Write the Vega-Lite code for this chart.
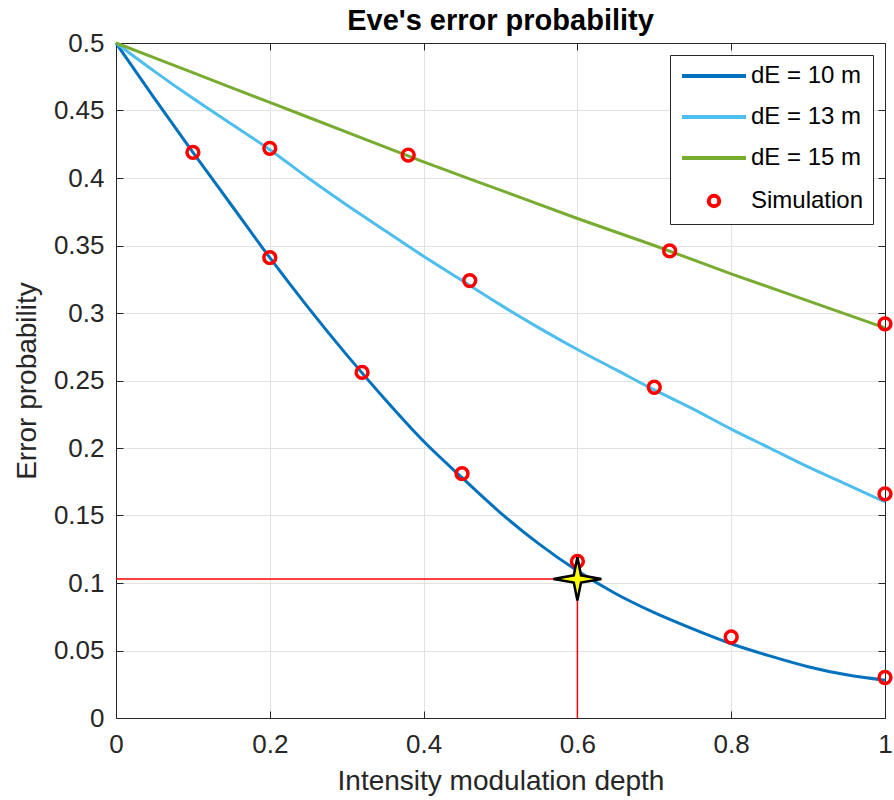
{
  "$schema": "https://vega.github.io/schema/vega-lite/v6.json",
  "width": 769,
  "height": 675,
  "autosize": {"type": "none"},
  "padding": {"left": 116, "top": 43, "right": 9, "bottom": 82},
  "background": "white",
  "title": {"text": "Eve's error probability", "fontSize": 29, "fontWeight": "bold", "color": "#000000", "anchor": "middle", "offset": -6},
  "config": {
    "font": "Liberation Sans",
    "view": {"stroke": "#262626", "strokeWidth": 1},
    "legend": {"labelFont": "Liberation Sans"}
  },
  "datasets": {
    "curves": [
      {"x": 0, "y": 0.5, "series": "dE = 10 m"}, {"x": 0.05, "y": 0.459, "series": "dE = 10 m"}, {"x": 0.1, "y": 0.419, "series": "dE = 10 m"}, {"x": 0.15, "y": 0.38, "series": "dE = 10 m"}, {"x": 0.2, "y": 0.341, "series": "dE = 10 m"}, {"x": 0.25, "y": 0.304, "series": "dE = 10 m"}, {"x": 0.3, "y": 0.269, "series": "dE = 10 m"}, {"x": 0.35, "y": 0.236, "series": "dE = 10 m"}, {"x": 0.4, "y": 0.205, "series": "dE = 10 m"}, {"x": 0.45, "y": 0.178, "series": "dE = 10 m"}, {"x": 0.5, "y": 0.152, "series": "dE = 10 m"}, {"x": 0.55, "y": 0.129, "series": "dE = 10 m"}, {"x": 0.6, "y": 0.109, "series": "dE = 10 m"}, {"x": 0.65, "y": 0.092, "series": "dE = 10 m"}, {"x": 0.7, "y": 0.078, "series": "dE = 10 m"}, {"x": 0.75, "y": 0.066, "series": "dE = 10 m"}, {"x": 0.8, "y": 0.055, "series": "dE = 10 m"}, {"x": 0.85, "y": 0.046, "series": "dE = 10 m"}, {"x": 0.9, "y": 0.038, "series": "dE = 10 m"}, {"x": 0.95, "y": 0.032, "series": "dE = 10 m"}, {"x": 1, "y": 0.028, "series": "dE = 10 m"},
      {"x": 0, "y": 0.5, "series": "dE = 13 m"}, {"x": 0.05, "y": 0.479, "series": "dE = 13 m"}, {"x": 0.1, "y": 0.459, "series": "dE = 13 m"}, {"x": 0.15, "y": 0.44, "series": "dE = 13 m"}, {"x": 0.2, "y": 0.421, "series": "dE = 13 m"}, {"x": 0.25, "y": 0.4, "series": "dE = 13 m"}, {"x": 0.3, "y": 0.38, "series": "dE = 13 m"}, {"x": 0.35, "y": 0.361, "series": "dE = 13 m"}, {"x": 0.4, "y": 0.342, "series": "dE = 13 m"}, {"x": 0.45, "y": 0.324, "series": "dE = 13 m"}, {"x": 0.5, "y": 0.306, "series": "dE = 13 m"}, {"x": 0.55, "y": 0.289, "series": "dE = 13 m"}, {"x": 0.6, "y": 0.273, "series": "dE = 13 m"}, {"x": 0.65, "y": 0.258, "series": "dE = 13 m"}, {"x": 0.7, "y": 0.243, "series": "dE = 13 m"}, {"x": 0.75, "y": 0.229, "series": "dE = 13 m"}, {"x": 0.8, "y": 0.214, "series": "dE = 13 m"}, {"x": 0.85, "y": 0.2, "series": "dE = 13 m"}, {"x": 0.9, "y": 0.186, "series": "dE = 13 m"}, {"x": 0.95, "y": 0.173, "series": "dE = 13 m"}, {"x": 1, "y": 0.16, "series": "dE = 13 m"},
      {"x": 0, "y": 0.5, "series": "dE = 15 m"}, {"x": 0.1, "y": 0.478, "series": "dE = 15 m"}, {"x": 0.2, "y": 0.456, "series": "dE = 15 m"}, {"x": 0.3, "y": 0.434, "series": "dE = 15 m"}, {"x": 0.4, "y": 0.412, "series": "dE = 15 m"}, {"x": 0.5, "y": 0.391, "series": "dE = 15 m"}, {"x": 0.6, "y": 0.37, "series": "dE = 15 m"}, {"x": 0.7, "y": 0.35, "series": "dE = 15 m"}, {"x": 0.8, "y": 0.329, "series": "dE = 15 m"}, {"x": 0.9, "y": 0.309, "series": "dE = 15 m"}, {"x": 1, "y": 0.289, "series": "dE = 15 m"}
    ],
    "sim": [
      {"x": 0.1, "y": 0.419, "series": "Simulation"}, {"x": 0.2, "y": 0.341, "series": "Simulation"}, {"x": 0.32, "y": 0.256, "series": "Simulation"}, {"x": 0.45, "y": 0.181, "series": "Simulation"}, {"x": 0.6, "y": 0.116, "series": "Simulation"}, {"x": 0.8, "y": 0.06, "series": "Simulation"}, {"x": 1, "y": 0.03, "series": "Simulation"},
      {"x": 0.2, "y": 0.422, "series": "Simulation"}, {"x": 0.46, "y": 0.324, "series": "Simulation"}, {"x": 0.7, "y": 0.245, "series": "Simulation"}, {"x": 1, "y": 0.166, "series": "Simulation"},
      {"x": 0.38, "y": 0.417, "series": "Simulation"}, {"x": 0.72, "y": 0.346, "series": "Simulation"}, {"x": 1, "y": 0.292, "series": "Simulation"}
    ],
    "guides": [
      {"x": 0, "x2": 0.6, "y": 0.103, "y2": 0.103},
      {"x": 0.6, "x2": 0.6, "y": 0, "y2": 0.103}
    ],
    "star": [{"x": 0.6, "y": 0.103}]
  },
  "resolve": {"axis": {"x": "independent", "y": "independent"}},
  "layer": [
    {
      "data": {"name": "curves"},
      "mark": {"type": "line", "strokeWidth": 3, "interpolate": "monotone"},
      "encoding": {
        "x": {"field": "x", "type": "quantitative", "scale": {"domain": [0, 1], "nice": false, "zero": false},
          "axis": {"values": [0, 0.2, 0.4, 0.6, 0.8, 1], "format": "~g", "labelFlush": false, "grid": true, "gridColor": "#e2e2e2", "domainColor": "#262626", "tickColor": "#262626", "tickSize": -7, "labelFontSize": 26, "labelColor": "#262626", "labelPadding": 20, "title": "Intensity modulation depth", "titleFontSize": 28, "titleFontWeight": "normal", "titleColor": "#262626", "titlePadding": 10}},
        "y": {"field": "y", "type": "quantitative", "scale": {"domain": [0, 0.5], "nice": false, "zero": false},
          "axis": {"values": [0, 0.05, 0.1, 0.15, 0.2, 0.25, 0.3, 0.35, 0.4, 0.45, 0.5], "format": "~g", "labelFlush": false, "grid": true, "gridColor": "#e2e2e2", "domainColor": "#262626", "tickColor": "#262626", "tickSize": -7, "labelFontSize": 26, "labelColor": "#262626", "labelPadding": 19, "title": "Error probability", "titleFontSize": 28, "titleFontWeight": "normal", "titleColor": "#262626", "titlePadding": 12}},
        "color": {"field": "series", "type": "nominal",
          "scale": {"domain": ["dE = 10 m", "dE = 13 m", "dE = 15 m", "Simulation"], "range": ["#0072BD", "#4DBEEE", "#77AC30", "#FF0000"]},
          "legend": {"title": null, "orient": "top-right", "offset": 12, "labelFontSize": 24, "labelColor": "#000000", "fillColor": "#ffffff", "strokeColor": "#262626", "padding": 9, "rowPadding": 17, "symbolSize": 110, "symbolStrokeWidth": 4, "symbolOffset": 23, "labelOffset": 25}}
      }
    },
    {
      "data": {"name": "sim"},
      "mark": {"type": "point", "filled": false, "strokeWidth": 3.5, "opacity": 1, "size": 140},
      "encoding": {
        "x": {"field": "x", "type": "quantitative", "scale": {"domain": [0, 1], "nice": false, "zero": false}, "axis": null},
        "y": {"field": "y", "type": "quantitative", "scale": {"domain": [0, 0.5], "nice": false, "zero": false}, "axis": null},
        "color": {"field": "series", "type": "nominal"},
        "shape": {"field": "series", "type": "nominal",
          "scale": {"domain": ["dE = 10 m", "dE = 13 m", "dE = 15 m", "Simulation"], "range": ["M-6.1,0H6.1", "M-6.1,0H6.1", "M-6.1,0H6.1", "circle"]},
          "legend": {"title": null}}
      }
    },
    {
      "data": {"name": "guides"},
      "mark": {"type": "rule", "color": "#FF0000", "strokeWidth": 1.5},
      "encoding": {
        "x": {"field": "x", "type": "quantitative", "scale": {"domain": [0, 1], "nice": false, "zero": false},
          "axis": {"orient": "top", "values": [0, 0.2, 0.4, 0.6, 0.8, 1], "labels": false, "grid": false, "title": null, "domainColor": "#262626", "tickColor": "#262626", "tickSize": -7}},
        "x2": {"field": "x2"},
        "y": {"field": "y", "type": "quantitative", "scale": {"domain": [0, 0.5], "nice": false, "zero": false},
          "axis": {"orient": "right", "values": [0, 0.05, 0.1, 0.15, 0.2, 0.25, 0.3, 0.35, 0.4, 0.45, 0.5], "labels": false, "grid": false, "title": null, "domainColor": "#262626", "tickColor": "#262626", "tickSize": -7}},
        "y2": {"field": "y2"}
      }
    },
    {
      "data": {"name": "star"},
      "mark": {"type": "point", "shape": "M0,-0.9L0.15,-0.15L1,0L0.15,0.15L0,0.9L-0.15,0.15L-1,0L-0.15,-0.15Z", "size": 2304, "filled": true, "fill": "#FFFF00", "stroke": "#000000", "strokeWidth": 2.5, "opacity": 1},
      "encoding": {
        "x": {"field": "x", "type": "quantitative", "scale": {"domain": [0, 1], "nice": false, "zero": false}, "axis": null},
        "y": {"field": "y", "type": "quantitative", "scale": {"domain": [0, 0.5], "nice": false, "zero": false}, "axis": null}
      }
    }
  ]
}
